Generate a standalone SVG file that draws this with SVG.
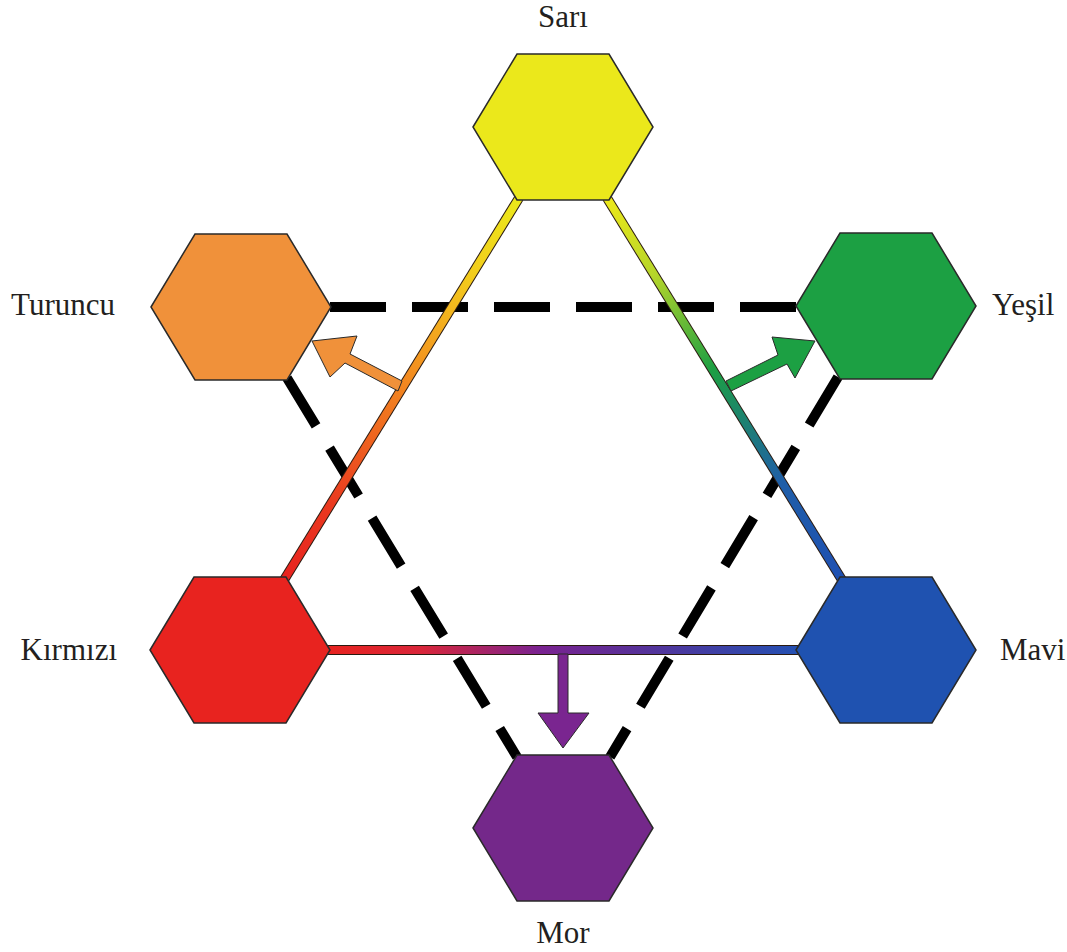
<svg xmlns="http://www.w3.org/2000/svg" width="1067" height="952" viewBox="0 0 1067 952">
<style>
.hex{stroke:#2a2a2a;stroke-width:1.5;stroke-linejoin:miter}
.lbl{font-family:"Liberation Serif","Times New Roman",serif;font-size:31px;fill:#231f20}
.dash{stroke:#000;stroke-width:10;stroke-dasharray:56 26;fill:none}
.edge{stroke:#2a1a10;stroke-width:10;fill:none}
.arrow{stroke:#2a2a2a;stroke-width:1;stroke-linejoin:miter}
</style>
<defs>
<polygon id="hx" points="-90,0 -46,-73 46,-73 90,0 46,73 -46,73"/>
<linearGradient id="gL" gradientUnits="userSpaceOnUse" x1="519" y1="200" x2="285" y2="578">
<stop offset="0" stop-color="#ece81a"/><stop offset="0.2" stop-color="#f3cc1c"/><stop offset="0.45" stop-color="#f39020"/><stop offset="0.8" stop-color="#ea3a1f"/><stop offset="1" stop-color="#e8231f"/>
</linearGradient>
<linearGradient id="gR" gradientUnits="userSpaceOnUse" x1="607" y1="200" x2="840" y2="578">
<stop offset="0" stop-color="#ece81a"/><stop offset="0.2" stop-color="#b5d52a"/><stop offset="0.45" stop-color="#1c9f43"/><stop offset="0.75" stop-color="#1f5ea8"/><stop offset="1" stop-color="#1f50b2"/>
</linearGradient>
<linearGradient id="gB" gradientUnits="userSpaceOnUse" x1="328" y1="650" x2="797" y2="650">
<stop offset="0" stop-color="#e8231f"/><stop offset="0.2" stop-color="#d9263a"/><stop offset="0.45" stop-color="#7a2290"/><stop offset="0.65" stop-color="#5a3098"/><stop offset="1" stop-color="#2450b2"/>
</linearGradient>
</defs>
<rect width="1067" height="952" fill="#ffffff"/>
<g id="connectors">
<line class="dash" x1="330" y1="307" x2="797" y2="307"/>
<line class="dash" x1="287" y1="378" x2="517" y2="757"/>
<line class="dash" x1="838" y1="377" x2="610" y2="757"/>
<line class="edge" x1="519" y1="198" x2="284" y2="580"/>
<line x1="519" y1="198" x2="284" y2="580" stroke="url(#gL)" stroke-width="8"/>
<line class="edge" x1="607" y1="198" x2="842" y2="580"/>
<line x1="607" y1="198" x2="842" y2="580" stroke="url(#gR)" stroke-width="8"/>
<line class="edge" x1="326" y1="650" x2="799" y2="650"/>
<line x1="326" y1="650" x2="799" y2="650" stroke="url(#gB)" stroke-width="8"/>
<polygon class="arrow" fill="#f0913a" points="402,381 350,354 357,336 312,341 330,377 345,363 398,391"/>
<polygon class="arrow" fill="#1ca043" points="726,381 778,355 772,337 815,341 795,378 787,364 731,391"/>
<polygon class="arrow" fill="#7a2590" points="558,654 558,713 538,713 563,748 589,713 568,713 568,654"/>
</g>
<g id="sari"><use href="#hx" class="hex" fill="#ebe81b" transform="translate(563,127)"/><text class="lbl" x="563" y="27" text-anchor="middle">Sarı</text></g>
<g id="turuncu"><use href="#hx" class="hex" fill="#f0913a" transform="translate(241,307)"/><text class="lbl" x="115" y="315" text-anchor="end">Turuncu</text></g>
<g id="yesil"><use href="#hx" class="hex" fill="#1ca043" transform="translate(886,306)"/><text class="lbl" x="992" y="315">Yeşil</text></g>
<g id="kirmizi"><use href="#hx" class="hex" fill="#e8231f" transform="translate(240,650)"/><text class="lbl" x="117" y="660" text-anchor="end">Kırmızı</text></g>
<g id="mavi"><use href="#hx" class="hex" fill="#1f52b0" transform="translate(886,650)"/><text class="lbl" x="1000" y="660">Mavi</text></g>
<g id="mor"><use href="#hx" class="hex" fill="#74288a" transform="translate(563,828)"/><text class="lbl" x="563" y="943" text-anchor="middle">Mor</text></g>
</svg>
